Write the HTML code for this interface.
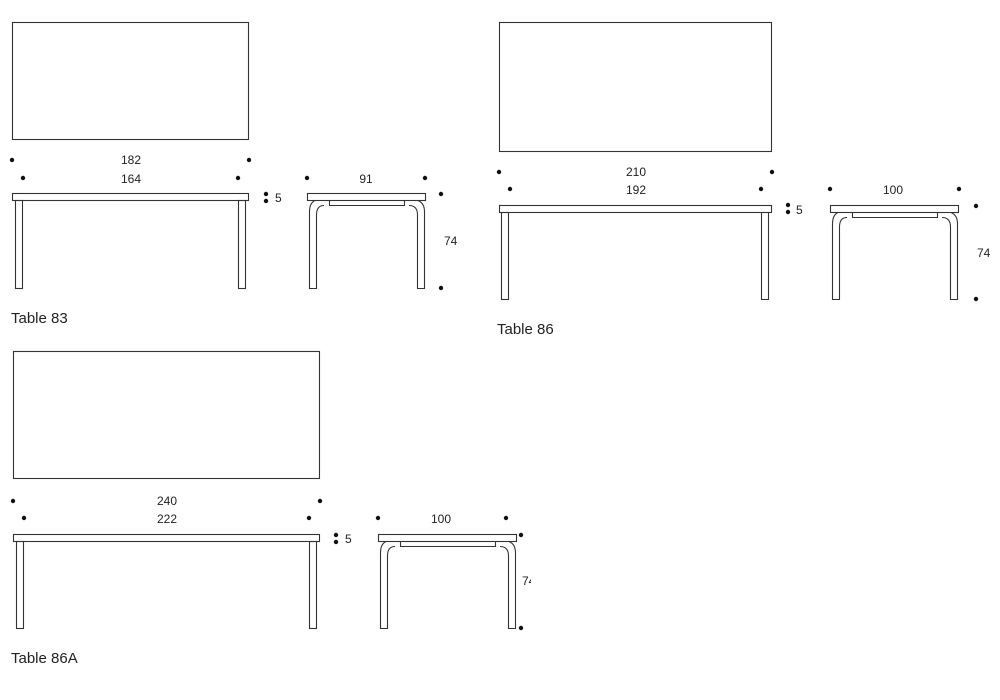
<!DOCTYPE html>
<html><head><meta charset="utf-8"><style>
html,body{margin:0;padding:0;background:#fff;}
svg{display:block;}
text{font-family:"Liberation Sans",sans-serif;fill:#222;}
</style></head><body>
<svg width="1000" height="700" viewBox="0 0 1000 700" xmlns="http://www.w3.org/2000/svg">
<g fill="none" stroke="#333" stroke-width="1.1">
<rect x="12.5" y="22.5" width="236" height="117"/>
<rect x="12.5" y="193.5" width="236" height="7"/>
<rect x="15.5" y="200.5" width="7" height="88"/>
<rect x="238.5" y="200.5" width="7" height="88"/>
<rect x="307.5" y="193.5" width="118" height="7"/>
<path d="M315,200.5 Q309.5,203 309.5,212 L309.5,288.5 L316.5,288.5 L316.5,215 Q316.5,205.5 324,205.5 M329.5,200.5 L329.5,205.5 L404.5,205.5 L404.5,200.5 M418,200.5 Q424.5,203 424.5,212 L424.5,288.5 L417.5,288.5 L417.5,215 Q417.5,205.5 409,205.5"/>
<rect x="499.5" y="22.5" width="272" height="129"/>
<rect x="499.5" y="205.5" width="272" height="7"/>
<rect x="501.5" y="212.5" width="7" height="87"/>
<rect x="761.5" y="212.5" width="7" height="87"/>
<rect x="830.5" y="205.5" width="128" height="7"/>
<path d="M838,212.5 Q832.5,215 832.5,224 L832.5,299.5 L839.5,299.5 L839.5,227 Q839.5,217.5 847,217.5 M852.5,212.5 L852.5,217.5 L937.5,217.5 L937.5,212.5 M951,212.5 Q957.5,215 957.5,224 L957.5,299.5 L950.5,299.5 L950.5,227 Q950.5,217.5 942,217.5"/>
<rect x="13.5" y="351.5" width="306" height="127"/>
<rect x="13.5" y="534.5" width="306" height="7"/>
<rect x="16.5" y="541.5" width="7" height="87"/>
<rect x="309.5" y="541.5" width="7" height="87"/>
<rect x="378.5" y="534.5" width="138" height="7"/>
<path d="M386,541.5 Q380.5,544 380.5,553 L380.5,628.5 L387.5,628.5 L387.5,556 Q387.5,546.5 395,546.5 M400.5,541.5 L400.5,546.5 L495.5,546.5 L495.5,541.5 M509,541.5 Q515.5,544 515.5,553 L515.5,628.5 L508.5,628.5 L508.5,556 Q508.5,546.5 500,546.5"/>
</g>
<g fill="#111">
<circle cx="12" cy="160" r="2.2"/><circle cx="249" cy="160" r="2.2"/>
<circle cx="23" cy="178" r="2.2"/><circle cx="238" cy="178" r="2.2"/>
<circle cx="266" cy="194" r="2.2"/><circle cx="266" cy="201" r="2.2"/>
<circle cx="307" cy="178" r="2.2"/><circle cx="425" cy="178" r="2.2"/>
<circle cx="441" cy="194" r="2.2"/><circle cx="441" cy="288" r="2.2"/>
<circle cx="499" cy="172" r="2.2"/><circle cx="772" cy="172" r="2.2"/>
<circle cx="510" cy="189" r="2.2"/><circle cx="761" cy="189" r="2.2"/>
<circle cx="788" cy="205" r="2.2"/><circle cx="788" cy="212" r="2.2"/>
<circle cx="830" cy="189" r="2.2"/><circle cx="959" cy="189" r="2.2"/>
<circle cx="976" cy="206" r="2.2"/><circle cx="976" cy="299" r="2.2"/>
<circle cx="13" cy="501" r="2.2"/><circle cx="320" cy="501" r="2.2"/>
<circle cx="24" cy="518" r="2.2"/><circle cx="309" cy="518" r="2.2"/>
<circle cx="336" cy="535" r="2.2"/><circle cx="336" cy="542" r="2.2"/>
<circle cx="378" cy="518" r="2.2"/><circle cx="506" cy="518" r="2.2"/>
<circle cx="521" cy="535" r="2.2"/><circle cx="521" cy="628" r="2.2"/>
</g>
<g font-size="12" text-anchor="middle">
<text x="131" y="164">182</text><text x="131" y="183">164</text>
<text x="366" y="183">91</text>
<text x="636" y="176">210</text><text x="636" y="194">192</text>
<text x="893" y="194">100</text>
<text x="167" y="505">240</text><text x="167" y="523">222</text>
<text x="441" y="523">100</text>
</g>
<g font-size="12">
<text x="275" y="202">5</text><text x="444" y="245">74</text>
<text x="796" y="214">5</text><text x="977" y="257">74</text>
<text x="345" y="543">5</text>
<svg x="0" y="0" width="531" height="700"><text x="522" y="585">74</text></svg>
</g>
<g font-size="15">
<text x="11" y="323">Table 83</text>
<text x="497" y="334">Table 86</text>
<text x="11" y="663">Table 86A</text>
</g>
</svg>
</body></html>
